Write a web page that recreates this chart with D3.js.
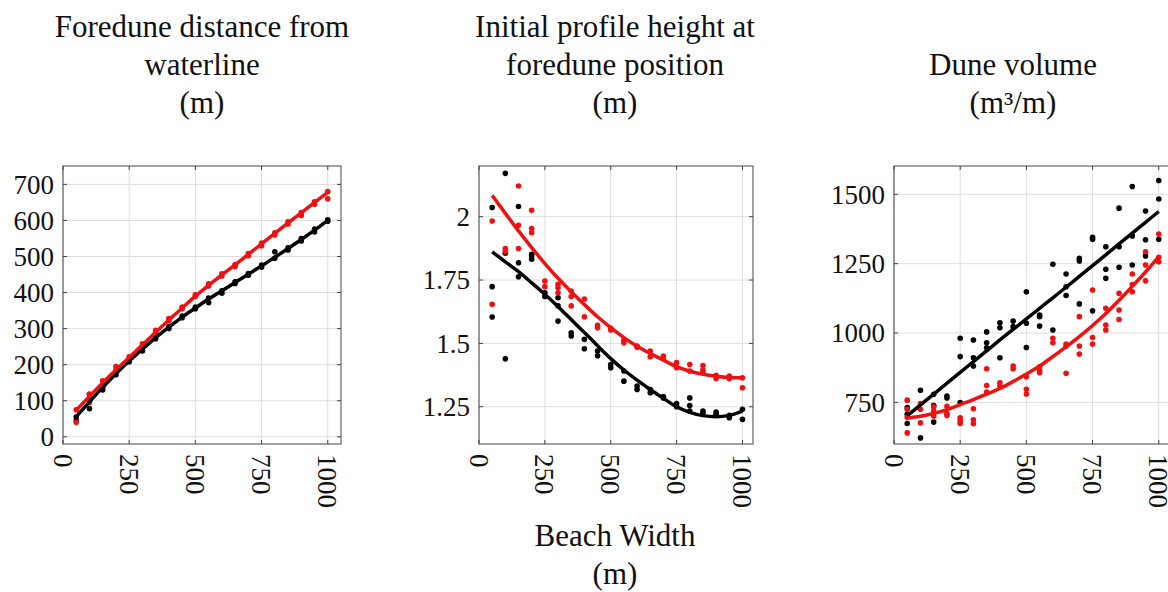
<!DOCTYPE html>
<html>
<head>
<meta charset="utf-8">
<script src="https://cdn.jsdelivr.net/npm/d3@7"></script>
<style>
    body { margin: 0; background: #fff; }
    text { font-family: "Liberation Serif", "Times New Roman", serif; fill: #111; }
</style>
</head>
<body>
<div id="chart"></div>
<script>
/** Beach widths (x) shared by all panels */
var widths = [50, 100, 150, 200, 250, 300, 350, 400, 450, 500, 550, 600, 650, 700, 750, 800, 850, 900, 950, 1000];
var xTicks = [0, 250, 500, 750, 1000];

/** Foredune distance from waterline (m) */
var distRedFit = [74, 112, 150, 186, 220, 255, 290, 324, 357, 390, 420, 449, 477, 506, 535, 564, 593, 621, 650, 678];
var distBlackFit = [56, 97, 137, 175, 210, 243, 275, 304, 332, 357, 382, 405, 428, 451, 474, 498, 522, 547, 573, 600];
var distRedPts = [[40, 75], [95, 118], [140, 155], [185, 195], [215, 222], [250, 258], [290, 295], [322, 328], [355, 360], [390, 394],
    [418, 424], [446, 452], [472, 478], [502, 508], [530, 537], [560, 566], [590, 596], [614, 622], [645, 652], [660, 680]];
var distBlackPts = [[45, 55], [78, 100, 118], [130, 138], [172, 180], [208, 214], [238, 246], [272, 278], [300, 306], [330, 335], [355, 360],
    [372, 385], [398, 405], [425, 430], [448, 453], [470, 476], [495, 513], [518, 524], [543, 550], [568, 576], [598, 602]];
var distTicks = [0, 100, 200, 300, 400, 500, 600, 700];

/** Initial profile height at foredune position (m) */
var heightRedFit = [2.084, 2.013, 1.944, 1.878, 1.815, 1.757, 1.704, 1.653, 1.605, 1.562, 1.523, 1.489, 1.46, 1.434, 1.408, 1.39, 1.378, 1.37, 1.365, 1.364];
var heightBlackFit = [1.861, 1.822, 1.783, 1.739, 1.694, 1.645, 1.594, 1.543, 1.491, 1.44, 1.395, 1.355, 1.318, 1.283, 1.25, 1.228, 1.215, 1.211, 1.216, 1.233];
var heightRedPts = [[1.983, 1.654], [1.874, 1.862], [2.121, 1.966, 1.874], [2.025, 1.953, 1.937], [1.746, 1.724], [1.733, 1.72, 1.70],
    [1.707, 1.685, 1.648], [1.675, 1.605], [1.571, 1.562], [1.56, 1.553], [1.513, 1.503], [1.49, 1.485], [1.47, 1.447], [1.443, 1.45],
    [1.424, 1.404], [1.417, 1.391], [1.413, 1.395, 1.387], [1.374, 1.361], [1.371, 1.361], [1.364, 1.325]];
var heightBlackPts = [[2.036, 1.724, 1.604], [2.171, 1.856, 1.439], [2.04, 1.818, 1.763], [1.852, 1.832, 1.845], [1.70, 1.685], [1.68, 1.648, 1.588],
    [1.542, 1.529], [1.516, 1.479], [1.47, 1.451], [1.417, 1.404], [1.391, 1.351], [1.332, 1.318], [1.318, 1.305], [1.285, 1.29],
    [1.263, 1.25], [1.285, 1.255, 1.233], [1.233, 1.224], [1.229, 1.22], [1.216, 1.207], [1.24, 1.2]];
var heightTicks = [1.25, 1.5, 1.75, 2];

/** Dune volume (m3/m) */
var volRedFit = [694, 700, 710, 724, 742, 760, 780, 800, 825, 852, 881, 915, 950, 987, 1027, 1070, 1118, 1168, 1220, 1275];
var volBlackFit = [702, 741, 780, 819, 858, 897, 936, 975, 1013, 1051, 1089, 1127, 1165, 1204, 1243, 1282, 1321, 1360, 1399, 1438];
var volRedPts = [[758, 725, 696, 640], [746, 725, 676], [734, 719, 701], [736, 710, 703], [694, 684, 674], [727, 687, 673],
    [871, 811, 787], [821, 809], [881, 871], [842, 797, 780], [878, 866, 857], [981, 965], [960, 953, 855], [1059, 953, 924],
    [1155, 984, 960], [1089, 1029, 1011], [1143, 1083, 1049], [1213, 1175, 1149], [1293, 1245, 1188], [1357, 1273, 1257]];
var volBlackPts = [[731, 707, 674], [794, 622], [779, 739, 679], [773, 766], [981, 915, 749], [975, 911, 881],
    [1004, 965, 947], [1037, 1019, 911], [1043, 1023], [1149, 1035, 948], [1065, 1059, 1025], [1248, 1011], [1213, 1167, 1135],
    [1269, 1260, 1105], [1345, 1338, 1080], [1311, 1230, 1197], [1450, 1311, 1237], [1528, 1350, 1245], [1440, 1336, 1278], [1550, 1483, 1338]];
var volTicks = [750, 1000, 1250, 1500];

var RED = "#ee1111";
var BLACK = "#000";

var width = 1168,
    height = 592;

var svg = d3
    .select("#chart")
    .append("svg")
    .attr("width", width)
    .attr("height", height);

var panels = [
    {
        left: 63, right: 341, xmax: 1050, ymin: -20, ymax: 751,
        yTicks: distTicks, title: ["Foredune distance from", "waterline", "(m)"], titleX: 202, titleY: [37, 75, 113],
        redFit: distRedFit, blackFit: distBlackFit, redPts: distRedPts, blackPts: distBlackPts
    },
    {
        left: 479, right: 753, xmax: 1040, ymin: 1.103, ymax: 2.2,
        yTicks: heightTicks, title: ["Initial profile height at", "foredune position", "(m)"], titleX: 615, titleY: [37, 75, 113],
        redFit: heightRedFit, blackFit: heightBlackFit, redPts: heightRedPts, blackPts: heightBlackPts
    },
    {
        left: 894, right: 1172, xmax: 1050, ymin: 600, ymax: 1602,
        yTicks: volTicks, title: ["Dune volume", "(m\u00b3/m)"], titleX: 1013, titleY: [75, 113],
        redFit: volRedFit, blackFit: volBlackFit, redPts: volRedPts, blackPts: volBlackPts
    }
];

// plot area, shared by the three panels
var plotTop = 166,
    plotBottom = 444;

panels.forEach(drawPanel);

// x axis label under the middle panel
svg.append("text")
    .attr("x", 615).attr("y", 546)
    .attr("text-anchor", "middle")
    .style("font-size", "31px")
    .text("Beach Width");
svg.append("text")
    .attr("x", 615).attr("y", 584)
    .attr("text-anchor", "middle")
    .style("font-size", "31px")
    .text("(m)");

function drawPanel(p) {
    var x = d3.scaleLinear().domain([0, p.xmax]).range([p.left, p.right]);
    var y = d3.scaleLinear().domain([p.ymin, p.ymax]).range([plotBottom, plotTop]);
    var g = svg.append("g");

    // grid
    g.selectAll(null)
        .data(xTicks)
        .enter()
        .append("line")
        .attr("x1", d => x(d)).attr("x2", d => x(d))
        .attr("y1", plotTop).attr("y2", plotBottom)
        .attr("stroke", "#dedede").attr("stroke-width", 1);
    g.selectAll(null)
        .data(p.yTicks)
        .enter()
        .append("line")
        .attr("x1", p.left).attr("x2", p.right)
        .attr("y1", d => y(d)).attr("y2", d => y(d))
        .attr("stroke", "#dedede").attr("stroke-width", 1);

    // inward tick marks
    xTicks.forEach(function (t) {
        g.append("line").attr("x1", x(t)).attr("x2", x(t)).attr("y1", plotBottom).attr("y2", plotBottom - 4).attr("stroke", "#444");
        g.append("line").attr("x1", x(t)).attr("x2", x(t)).attr("y1", plotTop).attr("y2", plotTop + 4).attr("stroke", "#444");
    });
    p.yTicks.forEach(function (t) {
        g.append("line").attr("x1", p.left).attr("x2", p.left + 4).attr("y1", y(t)).attr("y2", y(t)).attr("stroke", "#444");
        g.append("line").attr("x1", p.right).attr("x2", p.right - 4).attr("y1", y(t)).attr("y2", y(t)).attr("stroke", "#444");
    });

    // frame
    g.append("rect")
        .attr("x", p.left).attr("y", plotTop)
        .attr("width", p.right - p.left).attr("height", plotBottom - plotTop)
        .attr("fill", "none").attr("stroke", "#444").attr("stroke-width", 1);

    // tick labels
    g.selectAll(null)
        .data(p.yTicks)
        .enter()
        .append("text")
        .attr("x", p.left - 9)
        .attr("y", d => y(d))
        .attr("dy", "0.35em")
        .attr("text-anchor", "end")
        .style("font-size", "27px")
        .text(d => String(d));
    g.selectAll(null)
        .data(xTicks)
        .enter()
        .append("text")
        .attr("transform", d => "translate(" + x(d) + "," + (plotBottom + 10) + ") rotate(90)")
        .attr("dy", "0.35em")
        .attr("text-anchor", "start")
        .style("font-size", "27px")
        .text(d => String(d));

    // scatter points
    [[p.blackPts, BLACK], [p.redPts, RED]].forEach(function (s) {
        var flat = [];
        s[0].forEach(function (vals, i) {
            vals.forEach(function (v) {
                flat.push({ w: widths[i], v: v });
            });
        });
        g.selectAll(null)
            .data(flat)
            .enter()
            .append("circle")
            .attr("cx", d => x(d.w))
            .attr("cy", d => y(d.v))
            .attr("r", 2.8)
            .attr("fill", s[1]);
    });

    // fitted lines
    var line = d3.line()
        .x((d, i) => x(widths[i]))
        .y(d => y(d))
        .curve(d3.curveMonotoneX);
    g.append("path").attr("d", line(p.blackFit)).attr("fill", "none").attr("stroke", BLACK).attr("stroke-width", 3.5);
    g.append("path").attr("d", line(p.redFit)).attr("fill", "none").attr("stroke", RED).attr("stroke-width", 3.5);

    // title
    p.title.forEach(function (t, i) {
        g.append("text")
            .attr("x", p.titleX)
            .attr("y", p.titleY[i])
            .attr("text-anchor", "middle")
            .style("font-size", "31px")
            .text(t);
    });
}
</script>
</body>
</html>
